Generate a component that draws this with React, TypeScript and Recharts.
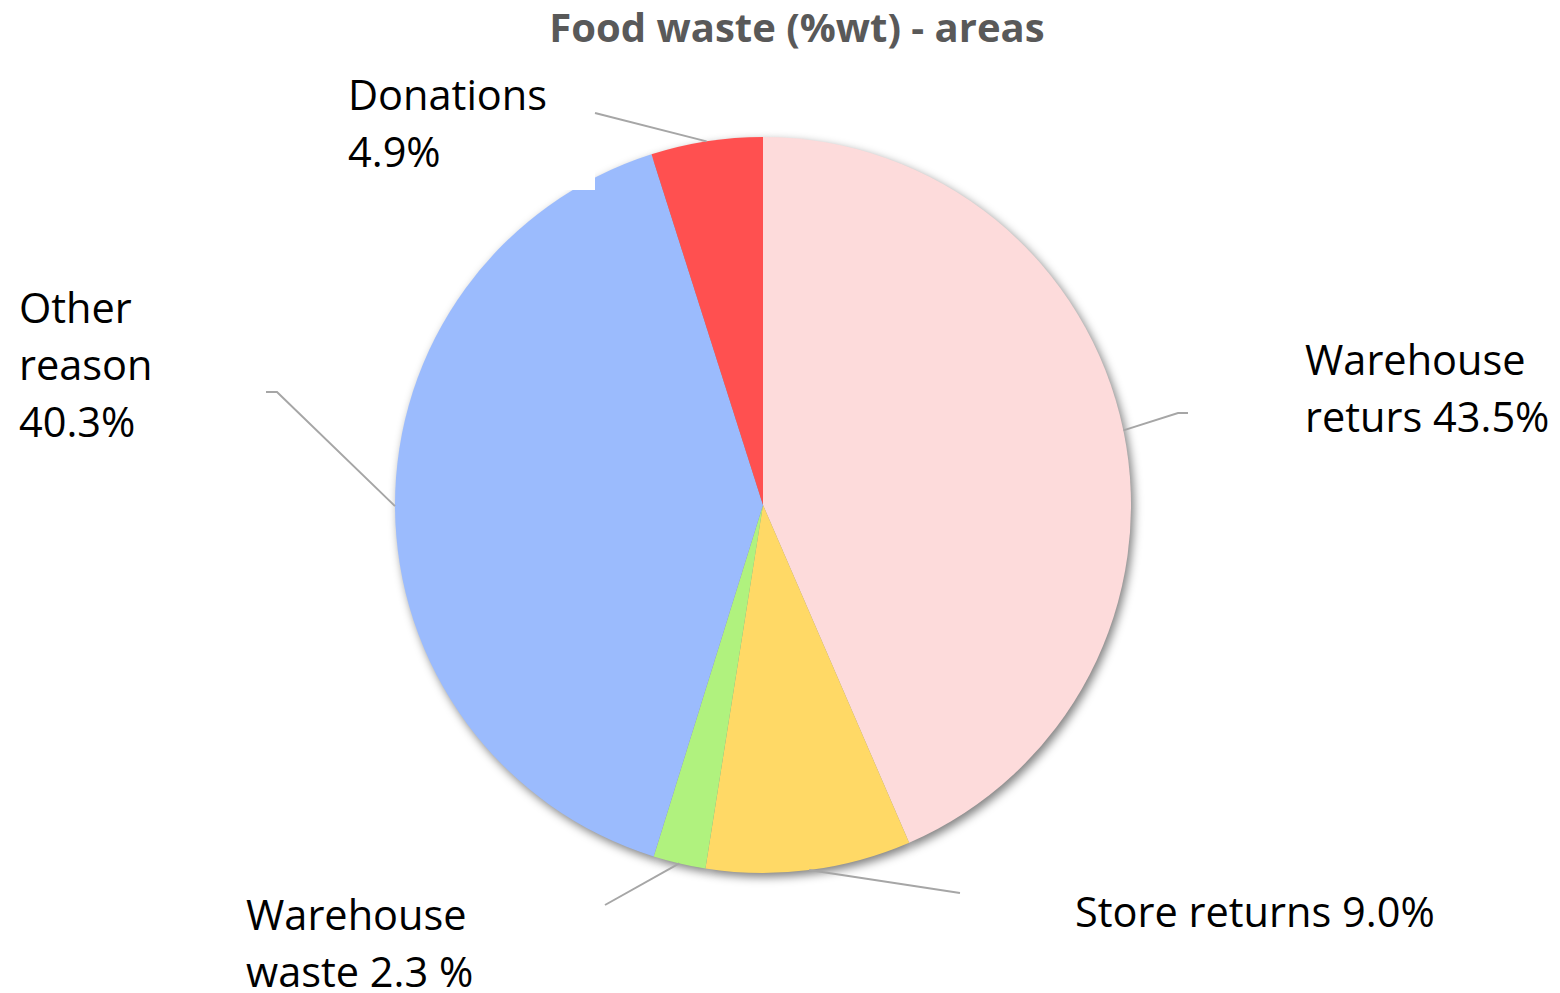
import React from 'react';
import { PieChart, Pie, Cell } from 'recharts';

const categories = ['Warehouse returns', 'Store returns', 'Warehouse waste', 'Other reason', 'Donations'];
const shares = [43.5, 9.0, 2.3, 40.3, 4.9];
const labelTexts = [
  ['Warehouse', 'returs 43.5%'],
  ['Store returns 9.0%'],
  ['Warehouse', 'waste 2.3 %'],
  ['Other', 'reason', '40.3%'],
  ['Donations', '4.9%'],
];
const colors = ['#FDDBDB', '#FFD966', '#B0F27E', '#9BBBFD', '#FF5050'];

const data = categories.map((name, i) => ({ name, value: shares[i], idx: i }));

// label layout, offsets relative to pie centre
const LAYOUT = [
  { pts: [[415, -92], [425, -92]], text: [542, -130] },
  { pts: [[197, 388]], text: [312, 422] },
  { pts: [[-158, 400]], text: [-517, 425] },
  { pts: [[-486, -113], [-497, -113]], text: [-744, -182] },
  { pts: [[-168, -392]], text: [-415, -395], box: [-423, -435, 255, 120] },
];

const CX = 763;
const CY = 505;
const R = 368;
const RAD = Math.PI / 180;
const LINE_H = 57;
const FONT = '"Open Sans", sans-serif';

const renderLabel = (props: any) => {
  const { cx, cy, midAngle, outerRadius, index } = props;
  const lay = LAYOUT[index];
  const sx = cx + outerRadius * Math.cos(-midAngle * RAD);
  const sy = cy + outerRadius * Math.sin(-midAngle * RAD);
  const pts = [[sx, sy], ...lay.pts.map(([dx, dy]) => [cx + dx, cy + dy])];
  const d = pts.map((p, i) => `${i === 0 ? 'M' : 'L'}${p[0]},${p[1]}`).join(' ');
  const tx = cx + lay.text[0];
  const ty = cy + lay.text[1];
  return (
    <g key={`lbl-${index}`}>
      {lay.box && (
        <rect x={cx + lay.box[0]} y={cy + lay.box[1]} width={lay.box[2]} height={lay.box[3]} fill="#fff" />
      )}
      <path d={d} stroke="#a6a6a6" strokeWidth={2} fill="none" />
      <text x={tx} y={ty} fill="#000" fontSize={41.5} fontFamily={FONT} textAnchor="start">
        {labelTexts[index].map((t, i) => (
          <tspan key={i} x={tx} y={ty + i * LINE_H}>{t}</tspan>
        ))}
      </text>
    </g>
  );
};

export default function App() {
  return (
    <div style={{ position: 'absolute', left: 0, top: 0, width: 1560, height: 993, background: '#fff', overflow: 'hidden' }}>
      <div
        style={{
          position: 'absolute',
          left: 0,
          top: 0,
          width: 1560,
          textAlign: 'center',
          paddingLeft: 34,
          boxSizing: 'border-box',
          fontFamily: FONT,
          fontWeight: 700,
          fontSize: 40,
          color: '#595959',
          lineHeight: '54px',
        }}
      >
        Food waste (%wt) - areas
      </div>
      <div style={{ position: 'absolute', left: 0, top: 0 }}>
        <PieChart width={1560} height={993} margin={{ top: 0, right: 0, bottom: 0, left: 0 }}>
          <Pie
            data={data}
            dataKey="value"
            nameKey="name"
            cx={CX + 3}
            cy={CY + 4}
            outerRadius={R}
            startAngle={90}
            endAngle={-270}
            stroke="none"
            isAnimationActive={false}
            label={false}
            labelLine={false}
          >
            {data.map((d) => (
              <Cell key={`s-${d.idx}`} fill="rgba(0,0,0,0.5)" style={{ filter: 'blur(5px)' }} />
            ))}
          </Pie>
          <Pie
            data={data}
            dataKey="value"
            nameKey="name"
            cx={CX}
            cy={CY}
            outerRadius={R}
            startAngle={90}
            endAngle={-270}
            stroke="none"
            isAnimationActive={false}
            label={renderLabel}
            labelLine={false}
          >
            {data.map((d) => (
              <Cell key={`c-${d.idx}`} fill={colors[d.idx]} />
            ))}
          </Pie>
        </PieChart>
      </div>
    </div>
  );
}
